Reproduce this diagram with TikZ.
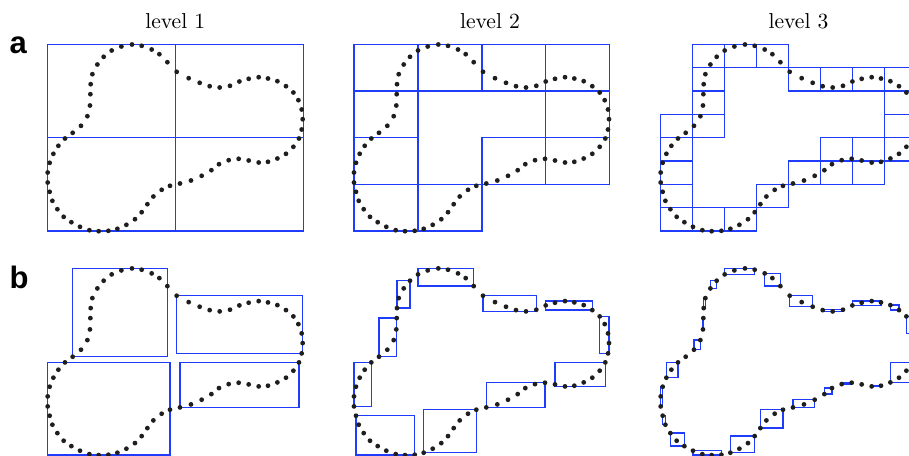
\documentclass[tikz,border=0pt]{standalone}
\usepackage{fontspec}
\usepackage{tikz}
\usetikzlibrary{fit}
\newfontfamily\panelfont{Liberation Sans}
\definecolor{Box_Blue}{RGB}{30,60,250}
\definecolor{Dot_Black}{HTML}{1E1E1E}

% samples of the closed curve, relative to the top-left corner of a panel
\newcommand{\curvepts}{25.0/88.3, 33.3/81.3, 39.7/71.7, 42.3/61.0, 42.7/49.7,
  43.0/39.7, 44.7/29.7, 49.7/20.0, 56.0/12.3, 64.0/6.0, 73.7/2.0, 84.3/0,
  94.0/1.3, 104.0/5.0, 111.7/9.7, 119.7/17.7, 129.0/27.3, 141.0/33.7,
  152.0/38.3, 162.0/41.7, 172.0/43.0, 182.3/41.3, 191.7/37.0, 201.0/34.3,
  211.0/32.7, 220.3/34.0, 229.7/36.7, 238.3/41.7, 245.7/48.0, 250.7/55.7,
  254.0/65.0, 255.0/74.7, 254.0/85.0, 251.3/94.0, 245.7/102.3, 238.3/109.3,
  229.7/114.0, 220.3/117.3, 211.0/118.0, 201.0/116.0, 191.0/114.3,
  181.0/115.7, 171.3/119.7, 163.7/125.7, 154.0/131.3, 143.3/136.0,
  132.3/139.0, 122.3/141.3, 114.0/145.3, 105.7/152.0, 99.7/159.7, 94.0/167.7,
  87.3/174.7, 78.7/180.3, 69.7/184.3, 60.7/186.3, 51.0/186.7, 41.7/185.7,
  32.3/182.3, 23.7/177.7, 16.0/172.3, 9.7/164.7, 4.7/156.3, 2.0/147.3,
  0/138.0, 0/128.0, 2.0/118.3, 5.7/109.3, 10.7/101.3, 17.3/94.0}

\newcommand{\placecurve}[1]{%
  \foreach \x/\y [count=\i] in \curvepts {\coordinate (#1-\i) at (\x,\y);}%
}
\newcommand{\drawdots}[1]{%
  \foreach \i in {1,...,70} {\fill[sample] (#1-\i) circle[radius=1.2pt];}%
}
% box round the points #2..#3 of one panel
\newcommand{\groupbox}[3]{%
  \gdef\fitlist{}%
  \foreach \k in {#2,...,#3} {\xdef\fitlist{\fitlist(#1-\k)}}%
  \edef\boxcmd{\noexpand\node[tightbox, fit=\fitlist] (#1-box#2) {};}%
  \boxcmd
}

\begin{document}
\begin{tikzpicture}[x=0.5pt, y=-0.5pt,
    gridbox/.style={draw=Box_Blue, line width=0.7pt},
    tightbox/.style={draw=Box_Blue, line width=0.7pt, inner sep=0pt, outer sep=0pt,
      minimum width=0pt, minimum height=0pt},
    sample/.style={fill=Dot_Black},
    title/.style={anchor=base, font=\fontsize{10.8}{13}\selectfont},
    tag/.style={anchor=base west, inner sep=0pt, font=\panelfont\bfseries\fontsize{15.5}{18}\selectfont}]
  \useasboundingbox (0,0) rectangle (909,455);
  \clip (0,0) rectangle (909,455);

  % column titles and row tags
  \node[title] (lvl1) at (175.3,28.3) {level 1};
  \node[title] (lvl2) at (490,28.3) {level 2};
  \node[title] (lvl3) at (798.5,28.3) {level 3};
  \node[tag] (taga) at (9.3,53.3) {a};
  \node[tag] (tagb) at (9.3,288.3) {b};

  % one copy of the curve per panel
  \begin{scope}[shift={(47.67,44.5)}] \placecurve{a1} \end{scope}
  \begin{scope}[shift={(354,44.5)}] \placecurve{a2} \end{scope}
  \begin{scope}[shift={(660.67,44.5)}] \placecurve{a3} \end{scope}
  \begin{scope}[shift={(47.67,268.4)}] \placecurve{b1} \end{scope}
  \begin{scope}[shift={(354,268.4)}] \placecurve{b2} \end{scope}
  \begin{scope}[shift={(660.67,268.4)}] \placecurve{b3} \end{scope}

  % a: occupied cells of the regular subdivision
  \begin{scope}[shift={(47.67,44.5)}, x=63.92pt, y=-46.58pt]
    \foreach \cx/\ry in {0/0,1/0,0/1,1/1}
      \draw[gridbox] (\cx,\ry) rectangle ++(1,1);
  \end{scope}
  \begin{scope}[shift={(354,44.5)}, x=31.96pt, y=-23.29pt]
    \foreach \cx/\ry in {0/0,1/0,2/0,3/0,0/1,3/1,0/2,2/2,3/2,0/3,1/3}
      \draw[gridbox] (\cx,\ry) rectangle ++(1,1);
  \end{scope}
  \begin{scope}[shift={(660.67,44.5)}, x=15.98pt, y=-11.646pt]
    \foreach \cx/\ry in {1/0,2/0,3/0, 1/1,4/1,5/1,6/1,7/1, 1/2,7/2, 0/3,1/3,7/3,
        0/4,5/4,6/4,7/4, 0/5,4/5,5/5,6/5, 0/6,3/6, 0/7,1/7,2/7}
      \draw[gridbox] (\cx,\ry) rectangle ++(1,1);
  \end{scope}

  % b: tight boxes round the points of each cell
  \foreach \p/\q in {1/16,17/33,34/47,48/70} {\groupbox{b1}{\p}{\q}}
  \foreach \p/\q in {1/5,6/9,10/16,17/22,23/28,29/33,34/40,41/47,48/55,56/64,65/70}
    {\groupbox{b2}{\p}{\q}}
  \foreach \p/\q in {2/3,4/5,6/7,8/9,10/13,14/16,17/19,20/22,23/26,27/28,29/31,
      32/33,34/37,38/39,41/42,43/44,45/47,48/51,52/55,56/59,60/62,63/64,65/67,68/70}
    {\groupbox{b3}{\p}{\q}}

  \foreach \n in {a1,a2,a3,b1,b2,b3} {\drawdots{\n}}
\end{tikzpicture}
\end{document}
